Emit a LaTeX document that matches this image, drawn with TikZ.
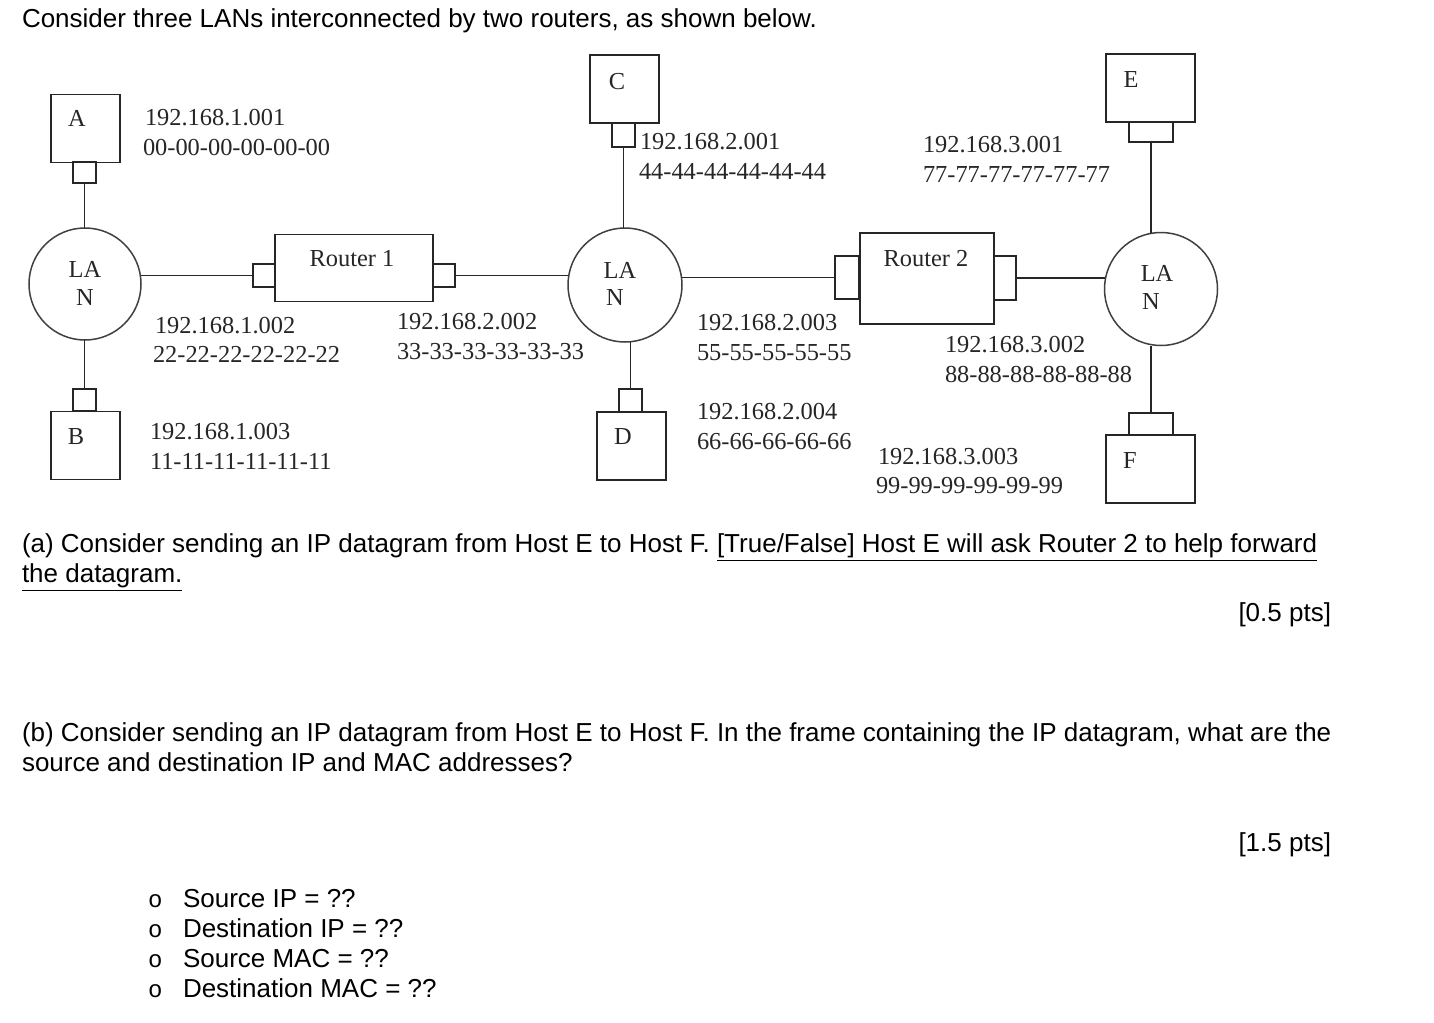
\documentclass[tikz,border=0pt]{standalone}
\usepackage{fontspec}
\setmainfont{Liberation Serif}
\newfontfamily\arialf{Liberation Sans}
\newfontfamily\courf{Liberation Mono}
\begin{document}
\begin{tikzpicture}[x=0.5pt,y=-0.5pt,
  every node/.style={inner sep=0pt,outer sep=0pt},
  wire/.style={line width=0.75pt,draw=black!85},
  hostbox/.style={draw=black!85,line width=0.75pt,rectangle,minimum width=34.5pt,minimum height=34pt},
  ifbox/.style={draw=black!85,line width=0.75pt,rectangle},
  lanc/.style={draw=black!75,line width=0.75pt,circle},
  lbl/.style={font=\fontsize{12.2}{14}\selectfont,text=black!85},
  addr/.style={lbl,anchor=west},
  body/.style={font=\arialf\fontsize{13}{15}\selectfont,anchor=base west},
  bodyr/.style={font=\arialf\fontsize{13}{15}\selectfont,anchor=base east}]
\useasboundingbox (0,0) rectangle (1434,1022);
\fill[white] (0,0) rectangle (1434,1022);

% ---------- text ----------
\node[body] (t0) at (22,28) {Consider three LANs interconnected by two routers, as shown below.};
\node[body] (ta1) at (22,552) {(a) Consider sending an IP datagram from Host E to Host F. \underline{[True/False] Host E will ask Router 2 to help forward}};
\node[body] (ta2) at (22,582) {\underline{the datagram.}};
\node[bodyr] (ta3) at (1331,621) {[0.5 pts]};
\node[body] (tb1) at (22,741) {(b) Consider sending an IP datagram from Host E to Host F. In the frame containing the IP datagram, what are the};
\node[body] (tb2) at (22,771) {source and destination IP and MAC addresses?};
\node[bodyr] (tb3) at (1331,851) {[1.5 pts]};
\foreach \yy/\tt [count=\i] in {907/{Source IP = ??},937/{Destination IP = ??},967/{Source MAC = ??},997/{Destination MAC = ??}}{
  \node[font=\courf\fontsize{12}{14}\selectfont,anchor=base west] (bul\i) at (148,\yy) {o};
  \node[body] (item\i) at (183,\yy) {\tt};
}

% ---------- LAN 1 ----------
\node[lanc,minimum size=56pt] (lan1) at (85,284) {};
\node[lbl] at (85,269) {LA};
\node[lbl] at (85,298) {N};
\node[hostbox] (A) at (85.5,128.5) {};
\node[lbl] at (77,118) {A};
\node[ifbox,minimum width=11.5pt,minimum height=10.5pt] (aif) at (84.5,172.5) {};
\node[ifbox,minimum width=11.5pt,minimum height=11pt] (bif) at (84.5,400) {};
\node[hostbox] (B) at (85.5,445.5) {};
\node[lbl] at (76,437) {B};
\node[ifbox,minimum width=11pt,minimum height=11.5pt] (r1l) at (264,275.5) {};
\node[ifbox,minimum width=79pt,minimum height=33.5pt] (R1) at (354,268) {};
\node[lbl] at (352,259) {Router 1};
\node[ifbox,minimum width=11pt,minimum height=11.5pt] (r1r) at (444,275.5) {};

% ---------- LAN 2 ----------
\node[lanc,minimum size=57pt] (lan2) at (625,285) {};
\node[lbl] at (620,270) {LA};
\node[lbl] at (615,298) {N};
\node[hostbox] (C) at (624.5,89) {};
\node[lbl] at (617,82) {C};
\node[ifbox,minimum width=11.5pt,minimum height=12pt] (cif) at (623.5,135) {};
\node[ifbox,minimum width=11.5pt,minimum height=11.5pt] (dif) at (630.5,400.5) {};
\node[hostbox] (D) at (631.5,446) {};
\node[lbl] at (623,437) {D};
\node[ifbox,minimum width=12pt,minimum height=21.5pt] (r2l) at (847,277.5) {};
\node[ifbox,minimum width=67pt,minimum height=45.5pt] (R2) at (927,278.5) {};
\node[lbl] at (926,259) {Router 2};
\node[ifbox,minimum width=11pt,minimum height=22pt] (r2r) at (1005,278) {};

% ---------- LAN 3 ----------
\node[lanc,minimum size=56.5pt] (lan3) at (1161,289) {};
\node[lbl] at (1157,273) {LA};
\node[lbl] at (1151,302) {N};
\node[hostbox,minimum width=44.5pt] (E) at (1150.5,88) {};
\node[lbl] at (1131,80) {E};
\node[ifbox,minimum width=22pt,minimum height=10pt] (eif) at (1151,132) {};
\node[ifbox,minimum width=22pt,minimum height=11pt] (fif) at (1151,424) {};
\node[hostbox,minimum width=44.5pt] (F) at (1150.5,469) {};
\node[lbl] at (1130,461) {F};

% ---------- connectors ----------
\draw[wire] (aif.south) -- (aif.south |- lan1.north);
\draw[wire] (bif.north) -- (bif.north |- lan1.south);
\draw[wire] (r1l.west -| lan1.east) -- (r1l.west);
\draw[wire] (r1r.east) -- (r1r.east -| lan2.west);
\draw[wire] (cif.south) -- (cif.south |- lan2.north);
\draw[wire] (dif.north) -- (dif.north |- lan2.south);
\draw[wire] (r2l.west -| lan2.east) -- (r2l.west);
\draw[wire] (r2r.east) -- (r2r.east -| lan3.west);
\draw[wire] (eif.south) -- (eif.south |- lan3.north);
\draw[wire] (fif.north) -- (fif.north |- lan3.south);

% ---------- address labels ----------
\node[addr] at (145,118) {192.168.1.001};
\node[addr] at (143,148) {00-00-00-00-00-00};
\node[addr] at (155,326) {192.168.1.002};
\node[addr] at (153,354) {22-22-22-22-22-22};
\node[addr] at (150,432) {192.168.1.003};
\node[addr] at (150,461) {11-11-11-11-11-11};
\node[addr] at (397,322) {192.168.2.002};
\node[addr] at (397,352) {33-33-33-33-33-33};
\node[addr] at (640,142) {192.168.2.001};
\node[addr] at (639,171) {44-44-44-44-44-44};
\node[addr] at (697,323) {192.168.2.003};
\node[addr] at (697,353) {55-55-55-55-55};
\node[addr] at (697,412) {192.168.2.004};
\node[addr] at (697,442) {66-66-66-66-66};
\node[addr] at (923,145) {192.168.3.001};
\node[addr] at (923,175) {77-77-77-77-77-77};
\node[addr] at (945,345) {192.168.3.002};
\node[addr] at (945,375) {88-88-88-88-88-88};
\node[addr] at (878,457) {192.168.3.003};
\node[addr] at (876,486) {99-99-99-99-99-99};
\end{tikzpicture}
\end{document}
